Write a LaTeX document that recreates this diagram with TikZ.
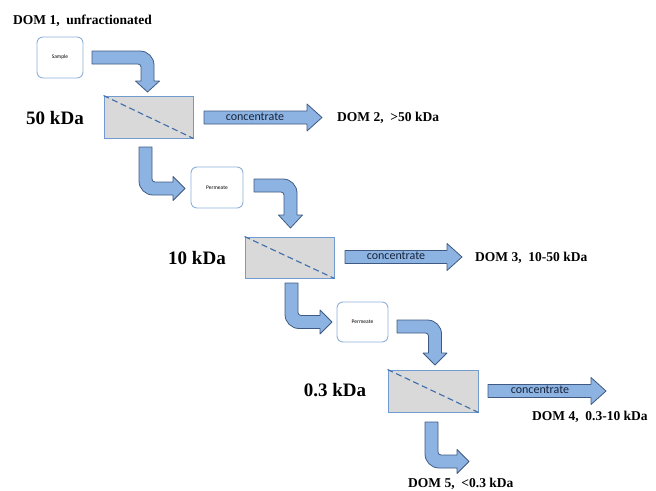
\documentclass[tikz,border=0pt]{standalone}
\usepackage{fontspec}
\setmainfont{Liberation Serif}
\newfontfamily\carl{Carlito}
\definecolor{arrfill}{HTML}{8DB3E2}
\definecolor{arrdraw}{HTML}{3F5A82}
\definecolor{filtfill}{HTML}{D9D9D9}
\definecolor{filtdraw}{HTML}{6F9BD0}
\definecolor{dashcol}{HTML}{3D6DAA}
\definecolor{boxdraw}{HTML}{8DB1DA}
\definecolor{conccol}{HTML}{17243A}
\tikzset{
  barrow/.style={fill=arrfill, draw=arrdraw, line width=0.8pt, line join=round},
  filterbox/.style={fill=filtfill, draw=filtdraw, line width=1pt},
  membrane/.style={draw=dashcol, line width=1.1pt, dash pattern=on 6pt off 3.5pt},
  roundbox/.style={draw=boxdraw, fill=white, line width=0.9pt, rounded corners=6pt, inner sep=0pt},
  tinytext/.style={font=\carl\fontsize{5.5}{6}\selectfont},
  ktext/.style={font=\bfseries\fontsize{19}{22}\selectfont},
  domtext/.style={font=\bfseries\fontsize{13.5}{16}\selectfont, inner sep=0pt},
  conctext/.style={font=\carl\fontsize{12}{14}\selectfont, text=conccol, inner sep=0pt}
}
% right-then-down bent arrow: x0, ytop, xright(outer), yheadbase, ytip
\newcommand{\RDarrow}[5]{%
\begingroup
\pgfmathsetmacro\rdA{#3-14}\pgfmathsetmacro\rdB{#3-6.3}\pgfmathsetmacro\rdC{#2+6.3}%
\pgfmathsetmacro\rdD{#2+14}\pgfmathsetmacro\rdE{#3+5.5}\pgfmathsetmacro\rdF{#3-6.5}%
\pgfmathsetmacro\rdG{#3-18.5}\pgfmathsetmacro\rdH{#3-13}\pgfmathsetmacro\rdI{#2+16}%
\pgfmathsetmacro\rdJ{#2+14.35}\pgfmathsetmacro\rdK{#3-14.35}\pgfmathsetmacro\rdL{#3-16}%
\pgfmathsetmacro\rdM{#2+13}%
\draw[barrow] (#1,#2) -- (\rdA,#2) .. controls (\rdB,#2) and (#3,\rdC) .. (#3,\rdD)
 -- (#3,#4) -- (\rdE,#4) -- (\rdF,#5) -- (\rdG,#4) -- (\rdH,#4) -- (\rdH,\rdI)
 .. controls (\rdH,\rdJ) and (\rdK,\rdM) .. (\rdL,\rdM) -- (#1,\rdM) -- cycle;
\endgroup}
% down-then-right bent arrow: xleft, ytop, ybottom(outer), xheadbase, xtip
\newcommand{\DRarrow}[5]{%
\begingroup
\pgfmathsetmacro\drA{#3-14}\pgfmathsetmacro\drB{#3-6.3}\pgfmathsetmacro\drC{#1+6.3}%
\pgfmathsetmacro\drD{#1+14}\pgfmathsetmacro\drE{#3+5.5}\pgfmathsetmacro\drF{#3-6.5}%
\pgfmathsetmacro\drG{#3-18.5}\pgfmathsetmacro\drH{#3-13}\pgfmathsetmacro\drI{#1+16}%
\pgfmathsetmacro\drJ{#1+14.35}\pgfmathsetmacro\drK{#3-14.35}\pgfmathsetmacro\drL{#3-16}%
\pgfmathsetmacro\drM{#1+13}%
\draw[barrow] (#1,#2) -- (#1,\drA) .. controls (#1,\drB) and (\drC,#3) .. (\drD,#3)
 -- (#4,#3) -- (#4,\drE) -- (#5,\drF) -- (#4,\drG) -- (#4,\drH) -- (\drI,\drH)
 .. controls (\drJ,\drH) and (\drM,\drK) .. (\drM,\drL) -- (\drM,#2) -- cycle;
\endgroup}
% straight block arrow: xstart, ycenter, xtip
\newcommand{\Sarrow}[3]{%
\begingroup
\pgfmathsetmacro\saA{#2-6.5}\pgfmathsetmacro\saB{#2+6.5}\pgfmathsetmacro\saC{#3-15}%
\pgfmathsetmacro\saD{#2-13.5}\pgfmathsetmacro\saE{#2+13.5}%
\draw[barrow] (#1,\saA) -- (\saC,\saA) -- (\saC,\saD) -- (#3,#2) -- (\saC,\saE) -- (\saC,\saB) -- (#1,\saB) -- cycle;
\endgroup}
\begin{document}
\begin{tikzpicture}[x=1pt,y=-1pt]
\useasboundingbox (0,0) rectangle (656,490);
% labels
\node[domtext, anchor=west] (dom1) at (13,21) {DOM 1,\enspace unfractionated};
\node[ktext] (k50) at (55,118) {50 kDa};
\node[ktext] (k10) at (197,258) {10 kDa};
\node[ktext] (k03) at (335,390) {0.3 kDa};
\node[domtext, anchor=west] (dom2) at (337,118) {DOM 2,\enspace >50 kDa};
\node[domtext, anchor=west] (dom3) at (475,258) {DOM 3,\enspace 10-50 kDa};
\node[domtext, anchor=west] (dom4) at (532,417) {DOM 4,\enspace 0.3-10 kDa};
\node[domtext, anchor=west] (dom5) at (408,484) {DOM 5,\enspace <0.3 kDa};
% boxes
\node[roundbox, minimum width=46pt, minimum height=41pt, tinytext] (sample) at (60,57.5) {Sample};
\node[roundbox, minimum width=52pt, minimum height=41pt, tinytext] (perm1) at (217,187.5) {Permeate};
\node[roundbox, minimum width=51pt, minimum height=40pt, tinytext] (perm2) at (362.5,322) {Permeate};
% filters
\node[filterbox, minimum width=89pt, minimum height=42pt, inner sep=0pt] (f1) at (148.5,117) {};
\node[filterbox, minimum width=89pt, minimum height=41pt, inner sep=0pt] (f2) at (289.5,257.5) {};
\node[filterbox, minimum width=90pt, minimum height=42pt, inner sep=0pt] (f3) at (433,391) {};
\draw[membrane] (f1.north west) -- (f1.south east);
\draw[membrane] (f2.north west) -- (f2.south east);
\draw[membrane] (f3.north west) -- (f3.south east);
% bent arrows
\RDarrow{92}{51}{154}{81}{92}
\DRarrow{139}{147}{195}{173}{185}
\RDarrow{254}{179}{297}{215}{228}
\DRarrow{285}{283}{328.5}{320}{332}
\RDarrow{397}{320}{441.5}{353}{365}
\DRarrow{425}{422}{468}{457}{469}
% concentrate arrows
\Sarrow{204}{117.5}{322}
\Sarrow{345}{257}{462}
\Sarrow{488}{391}{606}
\node[conctext] (c1) at (255,116.5) {concentrate};
\node[conctext] (c2) at (396,256) {concentrate};
\node[conctext] (c3) at (540,390) {concentrate};
\end{tikzpicture}
\end{document}
